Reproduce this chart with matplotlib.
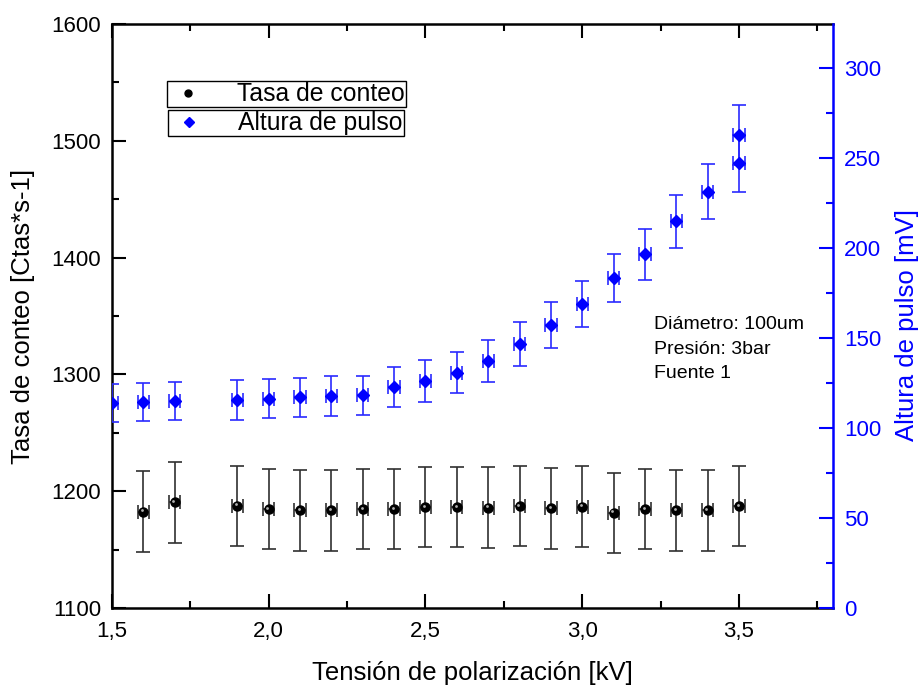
import matplotlib
matplotlib.use("Agg")
import matplotlib.pyplot as plt
from matplotlib.lines import Line2D
from matplotlib.ticker import MultipleLocator, FuncFormatter

plt.rcParams['font.family'] = ['Liberation Sans', 'DejaVu Sans']

# --- data ---
x_tasa = [1.6, 1.7, 1.9, 2.0, 2.1, 2.2, 2.3, 2.4, 2.5, 2.6, 2.7, 2.8, 2.9, 3.0,
          3.1, 3.2, 3.3, 3.4, 3.5]
tasa = [1182.5, 1190.5, 1187.6, 1184.8, 1183.6, 1183.6, 1184.8, 1184.8, 1186.5,
        1186.5, 1185.9, 1187.3, 1185.3, 1186.8, 1181.6, 1184.8, 1183.6, 1183.6, 1187.3]
tasa_err = [34.8, 34.6, 34.4, 34.4, 34.4, 34.4, 34.4, 34.4, 34.4, 34.4, 34.4, 34.5,
            34.4, 34.5, 34.3, 34.4, 34.4, 34.4, 34.5]

x_alt = [1.5, 1.6, 1.7, 1.9, 2.0, 2.1, 2.2, 2.3, 2.4, 2.5, 2.6, 2.7, 2.8, 2.9, 3.0,
         3.1, 3.2, 3.3, 3.4, 3.5, 3.5]
altura = [113.7, 114.3, 115.0, 115.6, 116.3, 117.0, 117.8, 118.1, 122.8, 126.1, 130.7,
          137.2, 146.5, 157.0, 168.9, 183.3, 196.4, 214.8, 231.3, 247.0, 262.8]
altura_err = [10.6, 10.6, 10.6, 10.9, 10.8, 10.9, 10.9, 10.8, 11.1, 11.4, 11.4, 11.7,
              12.1, 12.7, 13.0, 13.5, 14.1, 14.6, 15.3, 15.7, 16.5]
x_err = 0.018

x_ticks = [1.5, 2.0, 2.5, 3.0, 3.5]
left_ticks = [1100, 1200, 1300, 1400, 1500, 1600]
right_ticks = [0, 50, 100, 150, 200, 250, 300]

fig = plt.figure(figsize=(9.22, 6.87), dpi=100)
ax = fig.add_axes([112/922, 1-608/687, (833-112)/922, (608-24)/687])
ax2 = ax.twinx()

# black series
ax.errorbar(x_tasa, tasa, yerr=tasa_err, xerr=x_err, fmt='o', color='black',
            ms=6.5, mfc='black', mec='black', ecolor='#303030', elinewidth=1.2,
            capsize=5, capthick=1.2, zorder=3)
# highlight on spheres
ax.plot([v - 0.004 for v in x_tasa], [t + 1.2 for t in tasa], 'o', ms=2,
        color='#b0b0b0', zorder=4, mew=0)

# blue series
ax2.errorbar(x_alt, altura, yerr=altura_err, xerr=x_err, fmt='D', color='blue',
             ms=6.5, mfc='blue', mec='blue', ecolor='#2a2aff', elinewidth=1.2,
             capsize=5, capthick=1.2, zorder=3)

ax.set_xlim(1.5, 3.8)
ax.set_ylim(1100, 1600)
ax2.set_ylim(0, 324.4)

ax.set_xticks(x_ticks)
ax.xaxis.set_minor_locator(MultipleLocator(0.25))
ax.xaxis.set_major_formatter(FuncFormatter(lambda v, p: f"{v:.1f}".replace('.', ',')))
ax.set_yticks(left_ticks)
ax.yaxis.set_minor_locator(MultipleLocator(50))
ax2.set_yticks(right_ticks)
ax2.yaxis.set_minor_locator(MultipleLocator(25))

ax.tick_params(which='both', direction='in', top=True, bottom=True, left=True,
               right=False, width=1.5, labelsize=16, colors='black')
ax.tick_params(which='major', length=10)
ax.tick_params(which='minor', length=5)
ax.tick_params(axis='x', pad=9)
ax.tick_params(axis='y', pad=8)

ax2.tick_params(which='both', direction='in', right=True, width=1.5,
                labelsize=16, colors='blue', pad=8)
ax2.tick_params(which='major', length=10)
ax2.tick_params(which='minor', length=5)

for s in ['left', 'bottom', 'top']:
    ax.spines[s].set_linewidth(1.8)
    ax.spines[s].set_color('black')
ax2.spines['right'].set_color('blue')
ax2.spines['right'].set_linewidth(1.8)
for s in ['left', 'bottom', 'top']:
    ax2.spines[s].set_visible(False)
ax.spines['right'].set_visible(False)

ax.set_xlabel('Tensión de polarización [kV]', fontsize=18.5, labelpad=14)
ax.set_ylabel('Tasa de conteo [Ctas*s-1]', fontsize=18.5, labelpad=12)
fig.text(907/922, 1-325/687, 'Altura de pulso [mV]', fontsize=18.5, color='blue',
         rotation=90, ha='center', va='center')

ax2.text(0.752, (608-349)/584, 'Diámetro: 100um\nPresión: 3bar\nFuente 1',
         transform=ax.transAxes, fontsize=14, va='center', ha='left',
         linespacing=1.55)

h1 = Line2D([], [], ls='none', marker='o', color='black', ms=5)
h2 = Line2D([], [], ls='none', marker='D', color='blue', ms=5)
leg1 = ax2.legend([h1], ['Tasa de conteo'], loc='upper left',
                  bbox_to_anchor=(167/922, 1-81/687), bbox_transform=fig.transFigure,
                  fontsize=17.8, frameon=True, fancybox=False, borderpad=0.05,
                  handletextpad=1.2, handlelength=1.6, borderaxespad=0,
                  edgecolor='black', framealpha=1)
leg1.get_frame().set_linewidth(1.0)
ax2.add_artist(leg1)
leg2 = ax2.legend([h2], ['Altura de pulso'], loc='upper left',
                  bbox_to_anchor=(168/922, 1-110/687), bbox_transform=fig.transFigure,
                  fontsize=17.8, frameon=True, fancybox=False, borderpad=0.05,
                  handletextpad=1.2, handlelength=1.6, borderaxespad=0,
                  edgecolor='black', framealpha=1)
leg2.get_frame().set_linewidth(1.0)

fig.savefig('out.png', dpi=100)
